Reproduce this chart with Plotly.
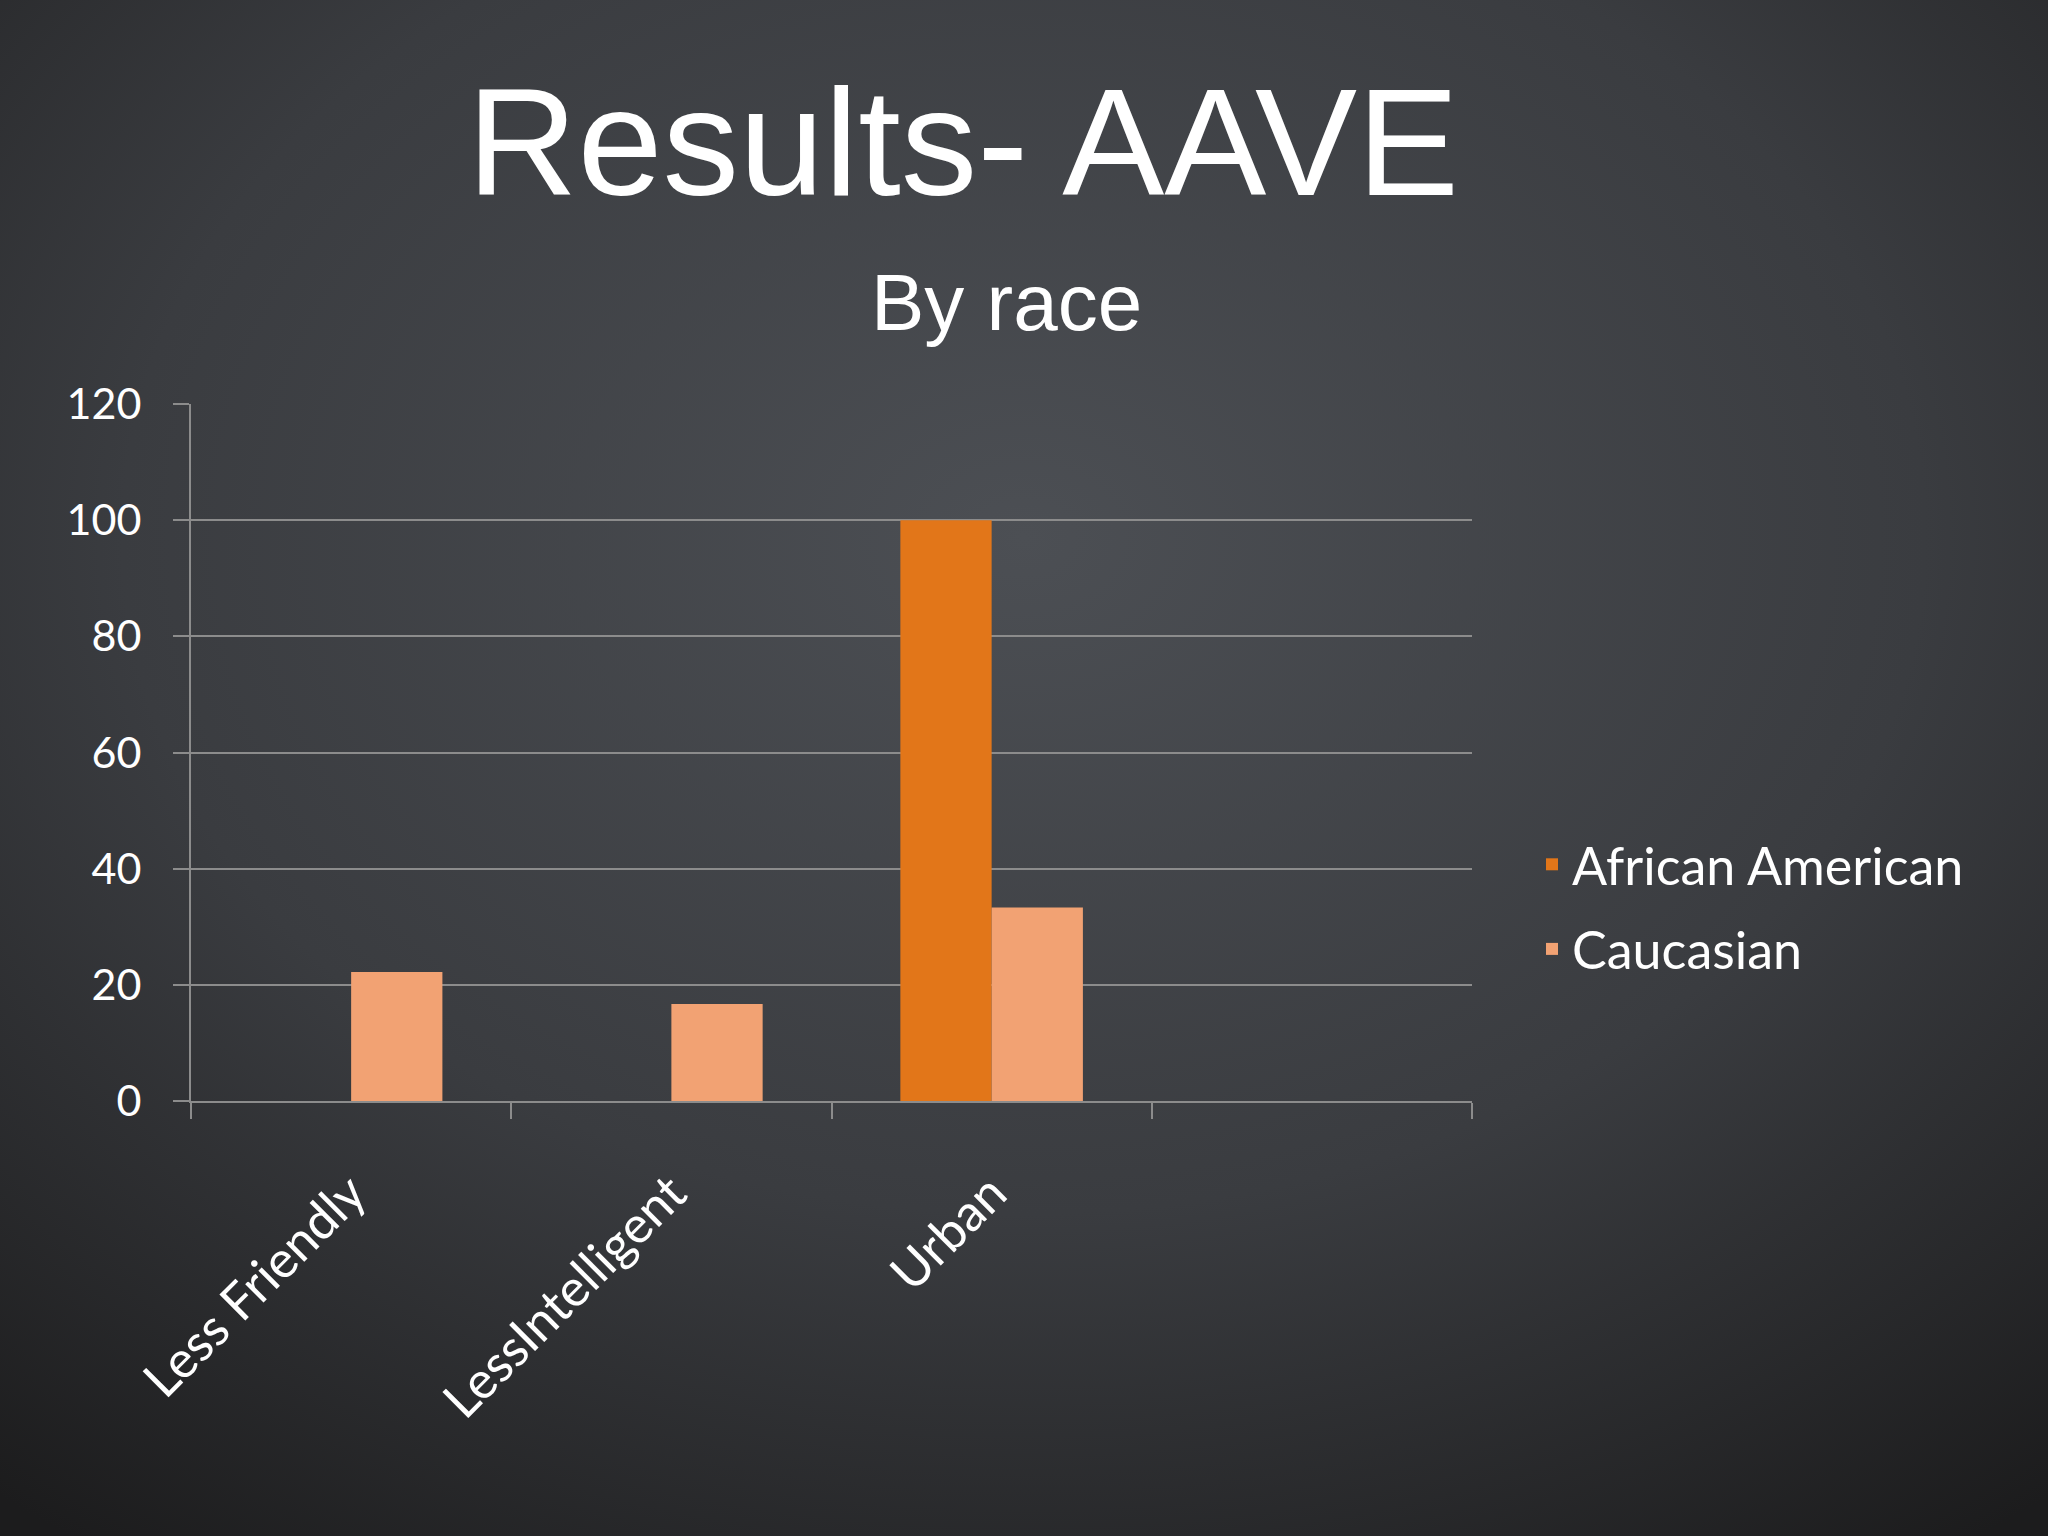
import base64
import plotly.graph_objects as go

# ---- data ----
categories = ["Less Friendly", "LessIntelligent", "Urban", " "]
african_american = [0, 0, 100, None]
caucasian = [22.2, 16.7, 33.3, None]
y_ticks = [0, 20, 40, 60, 80, 100, 120]

W, H = 2048, 1536
L, R, T, B = 191, 576, 404, 435
pw, ph = W - L - R, H - T - B

svg = (
    f'<svg xmlns="http://www.w3.org/2000/svg" width="{W}" height="{H}">'
    '<defs><radialGradient id="g" cx="0.5" cy="0.35" r="0.8">'
    '<stop offset="0" stop-color="#4c4f54"/>'
    '<stop offset="0.55" stop-color="#3a3c40"/>'
    '<stop offset="1" stop-color="#1c1c1d"/>'
    '</radialGradient></defs>'
    f'<rect width="{W}" height="{H}" fill="url(#g)"/></svg>'
)
bg_src = "data:image/svg+xml;base64," + base64.b64encode(svg.encode()).decode()

fig = go.Figure()
fig.add_trace(go.Bar(
    name="African American", x=categories, y=african_american,
    legendgroup="aa",
    marker=dict(color="#E27619", line=dict(width=0)),
))
fig.add_trace(go.Bar(
    name="Caucasian", x=categories, y=caucasian,
    legendgroup="ca",
    marker=dict(color="#F2A273", line=dict(width=0)),
))

def px_x(px):
    return (px - L) / pw

def px_y(py):
    return (H - B - py) / ph

axis_col = "#8c8c8c"
fig.update_layout(
    width=W, height=H,
    margin=dict(l=L, r=R, t=T, b=B, autoexpand=False),
    paper_bgcolor="#2e2f32",
    plot_bgcolor="rgba(0,0,0,0)",
    barmode="group",
    bargap=0.43,
    bargroupgap=0,
    font=dict(family="Lato, 'Open Sans', sans-serif", color="white", size=44),
    showlegend=True,
    legend=dict(
        x=px_x(1532), y=px_y(907), xanchor="left", yanchor="middle",
        font=dict(size=52, color="white"),
        bgcolor="rgba(0,0,0,0)", tracegroupgap=14,
    ),
    images=[dict(
        source=bg_src, xref="paper", yref="paper",
        x=px_x(0), y=px_y(0), sizex=W / pw, sizey=H / ph,
        xanchor="left", yanchor="top", sizing="stretch", layer="below",
    )],
    annotations=[
        dict(text="Results- AAVE", xref="paper", yref="paper",
             x=px_x(963), y=px_y(142), xanchor="center", yanchor="middle",
             showarrow=False,
             font=dict(family="Liberation Sans, Arial, sans-serif", size=153, color="white")),
        dict(text="By race", xref="paper", yref="paper",
             x=px_x(1006), y=px_y(302), xanchor="center", yanchor="middle",
             showarrow=False,
             font=dict(family="Liberation Sans, Arial, sans-serif", size=80, color="white")),
    ],
)
fig.update_xaxes(
    type="category", range=[-0.5, 3.5],
    showline=True, linecolor=axis_col, linewidth=2,
    ticks="outside", tickson="boundaries", ticklen=16, tickcolor=axis_col, tickwidth=2,
    tickangle=-45, showgrid=False, ticklabelstandoff=40,
    tickfont=dict(size=51, color="white"),
)
fig.update_yaxes(
    range=[0, 120], tickvals=y_ticks,
    showline=True, linecolor=axis_col, linewidth=2,
    ticks="outside", ticklen=16, tickcolor=axis_col, tickwidth=2,
    showgrid=True, gridcolor=axis_col, gridwidth=1.5,
    zeroline=False, ticklabelstandoff=23,
    tickfont=dict(size=43, color="white"),
)

fig.write_html(
    "out.html",
    config={"displayModeBar": False},
    post_script="document.body.style.margin='0';document.body.style.overflow='hidden';",
)
